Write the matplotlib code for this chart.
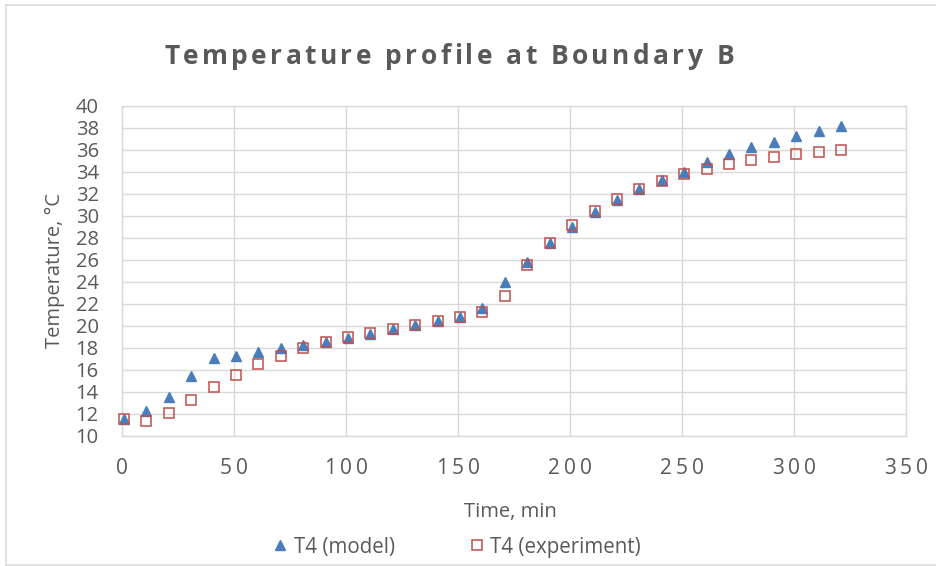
import matplotlib

matplotlib.use("Agg")
import matplotlib.pyplot as plt
from matplotlib.font_manager import FontProperties, findfont, get_font
from matplotlib.lines import Line2D

W, H, DPI = 937, 566, 100
TEXT = "#595959"
GRID = "#D9D9D9"
BLUE = "#4A7EBB"
RED = "#C0504D"
FAMILY = ["Open Sans", "DejaVu Sans"]

plt.rcParams["font.family"] = FAMILY

# values
time_min = [1, 11, 21, 31, 41, 51, 61, 71, 81, 91, 101, 111, 121, 131, 141, 151, 161,
            171, 181, 191, 201, 211, 221, 231, 241, 251, 261, 271, 281, 291, 301, 311, 321]
t4_model = [11.50, 12.24, 13.55, 15.42, 17.03, 17.27, 17.58, 17.94, 18.24, 18.55, 18.91,
            19.27, 19.67, 20.03, 20.39, 20.76, 21.58, 23.94, 25.82, 27.48, 29.00, 30.36,
            31.45, 32.42, 33.24, 34.00, 34.91, 35.60, 36.21, 36.73, 37.24, 37.73, 38.15]
t4_experiment = [11.50, 11.33, 12.10, 13.24, 14.42, 15.52, 16.52, 17.27, 18.00, 18.48, 18.94,
                 19.33, 19.70, 20.03, 20.42, 20.76, 21.21, 22.70, 25.52, 27.55, 29.12, 30.42,
                 31.52, 32.39, 33.18, 33.76, 34.27, 34.73, 35.06, 35.36, 35.64, 35.82, 35.97]
x_ticks = [0, 50, 100, 150, 200, 250, 300, 350]
y_ticks = [10, 12, 14, 16, 18, 20, 22, 24, 26, 28, 30, 32, 34, 36, 38, 40]

title = "Temperature profile at Boundary B"
x_title = "Time, min"
y_title = "Temperature, °C"
series_names = ["T4 (model)", "T4 (experiment)"]


def tracked_text(fig, x, y, s, size, spacing, weight="normal"):
    """Draw text centred on pixel x with extra letter spacing; y is the baseline (from top)."""
    prop = FontProperties(family=FAMILY, size=size, weight=weight)
    font = get_font(findfont(prop))
    font.set_size(size, DPI)
    advances = [font.load_char(ord(c)).linearHoriAdvance / 65536 for c in s]
    total = sum(advances) + spacing * (len(s) - 1)
    pos = x - total / 2
    for ch, adv in zip(s, advances):
        fig.text(pos / W, 1 - y / H, ch, fontproperties=prop, color=TEXT,
                 ha="left", va="baseline")
        pos += adv + spacing


fig = plt.figure(figsize=(W / DPI, H / DPI), dpi=DPI)

left, right, top, bottom = 121.7, 906.0, 105.7, 435.7
ax = fig.add_axes([left / W, 1 - bottom / H, (right - left) / W, (bottom - top) / H])

ax.plot(time_min, t4_model, linestyle="none", marker="^", markersize=6.5,
        color=BLUE, markeredgecolor=BLUE, clip_on=False, zorder=3)
ax.plot(time_min, t4_experiment, linestyle="none", marker="s", markersize=7.2,
        markerfacecolor="none", markeredgecolor=RED, markeredgewidth=1.1,
        clip_on=False, zorder=4)

ax.set_xlim(0, 350)
ax.set_ylim(10, 40)
ax.set_xticks(x_ticks)
ax.set_yticks(y_ticks)
ax.grid(True, color=GRID, linewidth=1.0)
ax.set_axisbelow(True)
for spine in ax.spines.values():
    spine.set_color(GRID)
    spine.set_linewidth(1.0)
ax.tick_params(length=0, labelsize=14.5, labelcolor=TEXT, pad=16.5)
ax.tick_params(axis="x", labelbottom=False)

# x tick labels are letter-spaced in the original
for v in x_ticks:
    xpix = ax.transData.transform((v, 10))[0]
    tracked_text(fig, xpix, 474, str(v), 15, 4.3)

tracked_text(fig, 449, 64.5, title, 19, 3.4, weight="bold")

fig.text(510 / W, 1 - 517 / H, x_title, fontsize=14.5, color=TEXT, ha="center", va="baseline")
fig.text(54.5 / W, 1 - 270.7 / H, y_title, fontsize=14.5, color=TEXT, rotation=90,
         ha="center", va="center")

handles = [
    Line2D([], [], linestyle="none", marker="^", markersize=6.5, color=BLUE),
    Line2D([], [], linestyle="none", marker="s", markersize=7.2, markerfacecolor="none",
           markeredgecolor=RED, markeredgewidth=1.1),
]
fig.legend(handles, series_names, loc="center left", bbox_to_anchor=(274.2 / W, 1 - 547 / H),
           ncol=2, frameon=False, fontsize=14.8, labelcolor=TEXT, borderpad=0,
           borderaxespad=0, handlelength=0.6, handletextpad=0.35, columnspacing=3.7)

# thin chart-area border
for xs, ys in [([6, 6], [5, 565]), ([6, W], [5, 5]), ([6, W], [565, 565])]:
    fig.add_artist(Line2D([x / W for x in xs], [1 - y / H for y in ys],
                          transform=fig.transFigure, color=GRID, linewidth=1.1))

fig.savefig("out.png", dpi=DPI)
